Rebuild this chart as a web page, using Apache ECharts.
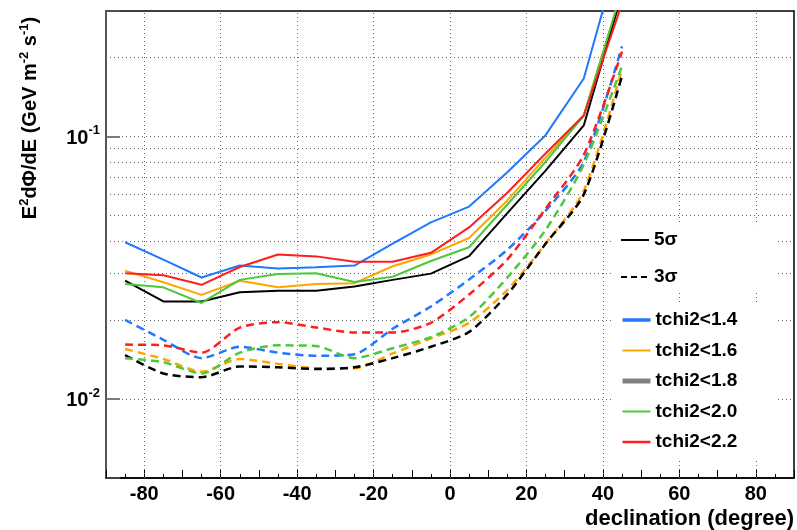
<!DOCTYPE html>
<html><head><meta charset="utf-8">
<script src="https://cdn.jsdelivr.net/npm/echarts@6/dist/echarts.min.js"></script>
<style>html,body{margin:0;padding:0;background:#fff}#c{width:797px;height:530px}</style>
</head><body><div id="c"></div>
<script>
// ---- data ----
const declination = [-85,-75,-65,-55,-45,-35,-25,-15,-5,5,15,25,35,45];
// 5 sigma
const s5_14 = [0.0395,0.0339,0.0290,0.0322,0.0314,0.0317,0.0322,0.039,0.047,0.054,0.073,0.101,0.166,0.55];
const s5_16 = [0.0308,0.0278,0.0249,0.0282,0.0266,0.0274,0.0276,0.032,0.0355,0.041,0.057,0.083,0.12,0.36];
const s5_18 = [0.0282,0.0235,0.0235,0.0255,0.0258,0.0258,0.0268,0.0284,0.030,0.035,0.051,0.074,0.110,0.35];
const s5_20 = [0.0274,0.0266,0.0232,0.0284,0.0299,0.0301,0.0279,0.0292,0.0335,0.0378,0.055,0.080,0.12,0.36];
const s5_22 = [0.0301,0.0296,0.0272,0.0318,0.0355,0.0349,0.0333,0.0333,0.036,0.045,0.061,0.086,0.12,0.32];
// 3 sigma
const s3_14 = [0.020,0.0168,0.0143,0.0158,0.0150,0.0146,0.0148,0.0185,0.0225,0.0285,0.037,0.052,0.080,0.22];
const s3_16 = [0.0155,0.0142,0.0127,0.0142,0.0136,0.0131,0.0131,0.0149,0.0170,0.0195,0.026,0.039,0.062,0.18];
const s3_18 = [0.0147,0.0125,0.0121,0.0133,0.0132,0.0130,0.0132,0.0143,0.0158,0.0180,0.025,0.039,0.060,0.17];
const s3_20 = [0.0143,0.0138,0.0125,0.0150,0.0160,0.0159,0.0143,0.0156,0.0172,0.0205,0.029,0.044,0.078,0.185];
const s3_22 = [0.0161,0.0160,0.0150,0.0187,0.0196,0.0187,0.0179,0.0179,0.0195,0.025,0.034,0.053,0.085,0.21];
const cutNames = ['tchi2<1.4','tchi2<1.6','tchi2<1.8','tchi2<2.0','tchi2<2.2'];
const sigmaNames = ['5σ','3σ'];
const xTickLabels = [-80,-60,-40,-20,0,20,40,60,80];
const yGridValues = [0.006,0.007,0.008,0.009,0.01,0.02,0.03,0.04,0.05,0.06,0.07,0.08,0.09,0.1,0.2];
const xGridValues = [-80,-60,-40,-20,0,20,40,60,80];

// ---- styles ----
const FONT = "'Liberation Sans', Arial, Helvetica, sans-serif";
const colors = ['#1f78ff','#ffa500','#000000','#4cc83c','#ff1e1e'];
const set5 = [s5_14,s5_16,s5_18,s5_20,s5_22];
const set3 = [s3_14,s3_16,s3_18,s3_20,s3_22];

const series = [];
series.push({
  type:'line', name:'grid', data:[], silent:true, z:1,
  markLine:{
    silent:true, symbol:['none','none'], label:{show:false}, z:1, animation:false,
    lineStyle:{type:[1,3], color:'#666', width:1},
    data:[...yGridValues.map(v=>({yAxis:v})), ...xGridValues.map(v=>({xAxis:v}))]
  }
});
series.push({type:'line', name:sigmaNames[0], data:[], symbol:'none', lineStyle:{color:'#000', width:2}, itemStyle:{color:'#000'}});
series.push({type:'line', name:sigmaNames[1], data:[], symbol:'none', lineStyle:{color:'#000', width:3, type:[6,4]}, itemStyle:{color:'#000'}});
cutNames.forEach((n,k)=>{
  series.push({
    type:'line', name:n, z:3, symbol:'none', showSymbol:false, animation:false,
    data: declination.map((d,i)=>[d, set5[k][i]]),
    lineStyle:{color:colors[k], width:2}, itemStyle:{color:colors[k]}
  });
  series.push({
    type:'line', name:n+' (3σ)', z:3, symbol:'none', showSymbol:false, animation:false,
    smooth:0.25,
    data: declination.map((d,i)=>[d, set3[k][i]]),
    lineStyle:{color:colors[k], width:2.5, type:[8,5]}, itemStyle:{color:colors[k]}
  });
});

const legendText = {fontFamily:FONT, fontSize:19, fontWeight:'bold', color:'#000', lineHeight:20};
const hiddenSymbol = {color:'rgba(0,0,0,0)', borderWidth:0, opacity:0};
const option = {
  animation:false,
  backgroundColor:'#fff',
  grid:{left:106, right:3, top:11, bottom:52, show:true, borderColor:'#000', borderWidth:1.5, backgroundColor:'transparent'},
  xAxis:{
    type:'value', min:-90, max:90, interval:10,
    axisLine:{show:true, onZero:false, lineStyle:{color:'#000', width:1.5}},
    axisTick:{show:true, inside:true, length:8, lineStyle:{color:'#000'}},
    minorTick:{show:true, splitNumber:2, length:4, lineStyle:{color:'#000'}},
    splitLine:{show:false},
    axisLabel:{
      margin:6, color:'#000', fontFamily:FONT, fontSize:20, fontWeight:'bold',
      formatter:(v)=> xTickLabels.indexOf(Math.round(v))>=0 ? String(Math.round(v)) : ''
    }
  },
  yAxis:{
    type:'log', logBase:10, min:0.005, max:0.3,
    axisLine:{show:true, onZero:false, lineStyle:{color:'#555', width:2}},
    axisTick:{show:true, inside:true, length:14, lineStyle:{color:'#555', width:1.5}},
    splitLine:{show:false},
    axisLabel:{
      margin:6, color:'#000', fontFamily:FONT,
      formatter:(v)=>{
        const e = Math.log10(v);
        const r = Math.round(e);
        if (Math.abs(e-r) < 1e-6) return '{b|10}{s|' + r + '}';
        return '';
      },
      rich:{
        b:{fontSize:20, fontWeight:'bold', color:'#000', fontFamily:FONT, lineHeight:24, verticalAlign:'bottom'},
        s:{fontSize:13, fontWeight:'bold', color:'#000', fontFamily:FONT, lineHeight:24, verticalAlign:'top'}
      }
    }
  },
  legend:[
    {
      data:sigmaNames, orient:'vertical', left:612, top:225,
      padding:[5,100,3,8], itemGap:17, itemWidth:28, itemHeight:14,
      backgroundColor:'#fff', selectedMode:false, textStyle:legendText,
      itemStyle:hiddenSymbol
    },
    {
      data:[
        {name:cutNames[0], lineStyle:{width:3.5}},
        {name:cutNames[1], lineStyle:{width:2}},
        {name:cutNames[2], lineStyle:{color:'#808080', width:5}},
        {name:cutNames[3], lineStyle:{width:2}},
        {name:cutNames[4], lineStyle:{width:2.5}}
      ],
      orient:'vertical', left:612, top:303,
      padding:[7,38,6,8], itemGap:10.5, itemWidth:28, itemHeight:14,
      backgroundColor:'#fff', selectedMode:false, textStyle:legendText,
      itemStyle:hiddenSymbol
    }
  ],
  graphic:[
    {
      type:'text', x:30, y:118, rotation:Math.PI/2, z:10,
      style:{
        text:'E{s|2}dΦ/dE (GeV m{s|-2} s{s|-1})',
        fontFamily:FONT, fontSize:20, fontWeight:'bold', fill:'#000',
        align:'center', verticalAlign:'middle',
        rich:{ s:{fontSize:13, fontWeight:'bold', fontFamily:FONT, fill:'#000', verticalAlign:'top', lineHeight:24} }
      }
    },
    {
      type:'text', x:794, y:519, z:10,
      style:{
        text:'declination (degree)', fontFamily:FONT, fontSize:22, fontWeight:'bold', fill:'#000',
        align:'right', verticalAlign:'middle'
      }
    }
  ],
  series:series
};
const chart = echarts.init(document.getElementById('c'), null, {renderer:'canvas'});
chart.setOption(option);
</script></body></html>
